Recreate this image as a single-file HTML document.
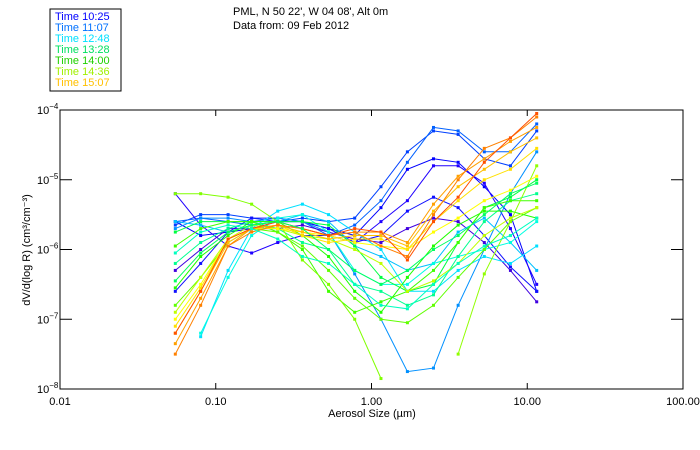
<!DOCTYPE html>
<html><head><meta charset="utf-8"><style>
body{margin:0;background:#fff;}
svg{display:block;font-family:"Liberation Sans",sans-serif;}
</style></head><body>
<svg id="chart" width="700" height="450" viewBox="0 0 700 450">
<rect x="50" y="9" width="71" height="82" fill="#fff" stroke="#000" stroke-width="1"/>
<g font-size="11">
<text x="55" y="20" fill="#0000ff">Time 10:25</text>
<text x="55" y="31" fill="#0070ff">Time 11:07</text>
<text x="55" y="42" fill="#00e0ff">Time 12:48</text>
<text x="55" y="53" fill="#00e060">Time 13:28</text>
<text x="55" y="64" fill="#20d000">Time 14:00</text>
<text x="55" y="75" fill="#a0f000">Time 14:36</text>
<text x="55" y="86" fill="#ffc000">Time 15:07</text>
</g>
<text x="233" y="15" font-size="11">PML, N 50 22', W 04 08', Alt 0m</text>
<text x="233" y="29" font-size="11">Data from: 09 Feb 2012</text>
<rect x="60" y="110" width="623" height="279" fill="none" stroke="#000" stroke-width="1"/>
<g id="axes"></g>
<g id="series"></g>
<text x="372" y="417" font-size="11" text-anchor="middle">Aerosol Size (µm)</text>
<text transform="translate(30,250) rotate(-90)" font-size="11" text-anchor="middle">dV/d(log R) (cm³/cm⁻³)</text>
</svg>
<script>
const sizes=[0.055,0.08,0.12,0.17,0.25,0.36,0.53,0.78,1.15,1.7,2.5,3.6,5.3,7.8,11.5];
const xTicks=[0.01,0.1,1,10,100];
const xTickLabels=["0.01","0.10","1.00","10.00","100.00"];
const yTickExps=[-4,-5,-6,-7,-8];
const colors=["#0000ff","#0040ff","#0060ff","#2000ff","#4000e0","#1010ff","#0090ff","#00c0ff","#00e0ff","#00ffe0","#00ff90","#00ff40","#20ff00","#40ff00","#60ff00","#80ff00","#90ff00","#c0ff00","#ffff00","#ffe000","#ffc000","#ffa000","#ff8000","#ff5000","#00ffc0","#00ff60"];
const N=null;
const s1=[-5.6,-5.8,-5.75,-5.7,-5.6,-5.6,-5.7,-5.8,-5.4,-4.85,-4.7,-4.75,-5.1,-5.5,-6.6];
const s2=[-5.65,-5.5,-5.5,-5.55,-5.6,-5.55,-5.6,-5.55,-5.1,-4.6,-4.3,-4.35,-4.7,-4.8,-4.3];
const s3=[-5.6,-5.55,-5.6,-5.65,-5.6,-5.6,-5.8,-5.65,-5.3,-4.75,-4.25,-4.3,-4.6,-4.6,-4.2];
const s4=[-5.2,-5.65,-5.95,-6.05,-5.9,-5.8,-5.8,-5.9,-5.6,-5.3,-4.8,-4.8,-5.05,-5.7,-6.5];
const s5=[-6.3,-6.0,-5.7,-5.7,-5.7,-5.65,-5.75,-5.85,-5.9,-5.7,-5.55,-5.6,-5.9,-6.3,-6.75];
const s6=[-6.6,-6.2,-5.75,-5.55,-5.55,-5.6,-5.7,-5.9,-5.8,-5.45,-5.25,-5.4,-5.8,-6.25,-6.6];
const s7=[-5.7,-5.55,-5.55,-5.6,-5.55,-5.6,-5.75,-6.35,-7.0,-7.75,-7.7,-6.8,-6.0,-5.2,-4.6];
const s8=[-5.6,-5.65,-5.75,-5.65,-5.6,-5.5,-5.6,-5.95,-6.1,-6.3,-6.2,-5.75,-5.55,-5.9,-6.3];
const s9=[N,-7.25,-6.3,-5.7,-5.45,-5.35,-5.5,-5.75,-6.0,-6.6,-6.6,-6.3,-6.1,-6.2,-5.95];
const s10=[N,-7.2,-6.4,-5.8,-5.55,-5.5,-5.75,-6.3,-6.5,-6.5,-6.2,-6.1,-6.0,-5.9,-5.6];
const s11=[-6.2,-5.9,-5.7,-5.6,-5.7,-5.9,-6.0,-6.5,-6.6,-6.8,-6.65,-6.1,-5.6,-5.3,-5.2];
const s12=[-5.75,-5.6,-5.6,-5.6,-5.6,-5.6,-5.65,-5.95,-6.4,-6.6,-6.5,-5.9,-5.4,-5.25,-5.0];
const s13=[-6.55,-6.1,-5.8,-5.6,-5.6,-5.8,-6.1,-6.6,-6.9,-6.4,-5.95,-5.65,-5.45,-5.45,-5.55];
const s14=[-5.95,-5.7,-5.6,-5.6,-5.75,-6.0,-6.6,-6.9,-6.75,-6.6,-6.3,-5.9,-5.4,-5.3,-5.3];
const s15=[-6.8,-6.4,-5.9,-5.7,-5.75,-5.95,-6.3,-6.7,-7.0,-7.05,-6.8,-6.4,-6.0,-5.6,-5.4];
const s16=[-5.2,-5.2,-5.25,-5.35,-5.6,-6.15,-6.5,-7.0,-7.85,N,N,N,N,N,N];
const s17=[N,N,N,N,N,N,N,N,N,N,N,-7.5,-6.35,-5.6,-4.8];
const s18=[-6.9,-6.4,-5.85,-5.65,-5.7,-5.8,-5.85,-6.0,-6.2,-6.6,-6.45,-6.2,-5.8,-5.55,-5.4];
const s19=[-7.0,-6.5,-5.85,-5.7,-5.7,-5.75,-5.8,-5.9,-5.95,-6.0,-5.75,-5.55,-5.3,-5.15,-4.95];
const s20=[-7.1,-6.55,-5.85,-5.7,-5.65,-5.8,-5.9,-5.85,-5.85,-6.0,-5.6,-5.3,-5.0,-4.85,-4.55];
const s21=[-7.2,-6.6,-5.9,-5.7,-5.65,-5.75,-5.85,-5.8,-5.8,-5.95,-5.45,-5.1,-4.85,-4.6,-4.4];
const s22=[-7.35,-6.7,-5.95,-5.7,-5.65,-5.7,-5.8,-5.75,-5.75,-5.9,-5.35,-4.95,-4.7,-4.45,-4.25];
const s23=[-7.5,-6.8,-5.95,-5.75,-5.65,-5.7,-5.8,-5.75,-5.95,-6.1,-5.5,-5.0,-4.55,-4.4,-4.1];
const s24=[-7.2,-6.6,-5.85,-5.7,-5.6,-5.7,-5.8,-5.7,-5.75,-6.15,-5.6,-5.25,-4.75,-4.4,-4.05];
const s25=[-6.05,-5.75,-5.65,-5.7,-5.85,-6.1,-6.2,-6.5,-6.8,-6.85,-6.5,-6.2,-5.95,-5.8,-5.55];
const s26=[-6.45,-6.05,-5.75,-5.65,-5.6,-5.7,-6.0,-6.3,-6.5,-6.3,-6.0,-5.8,-5.5,-5.2,-5.05];
const seriesList=[s1,s2,s3,s4,s5,s6,s7,s8,s9,s10,s11,s12,s13,s14,s15,s16,s17,s18,s19,s20,s21,s22,s23,s24,s25,s26];

const L=60,R=683,T=110,B=389;
function xs(v){return L+(Math.log10(v)+2)/4*(R-L);}
function ys(e){return T+(-4-e)/4*(B-T);}
const NS="http://www.w3.org/2000/svg";
const axes=document.getElementById('axes');
function mk(tag,attrs,parent){const e=document.createElementNS(NS,tag);for(const k in attrs)e.setAttribute(k,attrs[k]);parent.appendChild(e);return e;}
xTicks.forEach((t,i)=>{
  const x=xs(t);
  if(i>0&&i<xTicks.length-1){
    const a=mk('line',{x1:x,x2:x,y1:B,y2:B-6,stroke:'#000'},axes);
    
    
    const b=mk('line',{x1:x,x2:x,y1:T,y2:T+6,stroke:'#000'},axes);
    
    
  }
  const tx=mk('text',{x:x,y:405,'font-size':11,'text-anchor':'middle'},axes);
  tx.textContent=xTickLabels[i];
  
  
});
yTickExps.forEach((e,i)=>{
  const y=ys(e);
  if(i>0&&i<yTickExps.length-1){
    const a=mk('line',{x1:L,x2:L+12,y1:y,y2:y,stroke:'#000'},axes);
    
    
    const b=mk('line',{x1:R,x2:R-12,y1:y,y2:y,stroke:'#000'},axes);
    
    
  }
  const tx=mk('text',{x:37,y:y+4,'font-size':11},axes);
  
  
  tx.textContent='10';
  const sp=mk('tspan',{dy:-5,'font-size':8},tx);
  sp.textContent=String(e).replace('-','−');
});
const sg=document.getElementById('series');
seriesList.forEach((s,si)=>{
  const c=colors[si];
  const g=mk('g',{},sg);
  
  
  let d='';let pen=false;
  s.forEach((v,i)=>{
    if(v===null){pen=false;return;}
    d+=(pen?'L':'M')+xs(sizes[i]).toFixed(1)+' '+ys(v).toFixed(1);pen=true;
  });
  const p=mk('path',{d:d,fill:'none',stroke:c,'stroke-width':1},g);
  
  
  s.forEach((v,i)=>{
    if(v===null)return;
    const r=mk('rect',{x:xs(sizes[i])-1.5,y:ys(v)-1.5,width:3,height:3,fill:c},g);
    
    
  });
});
</script>
</body></html>
